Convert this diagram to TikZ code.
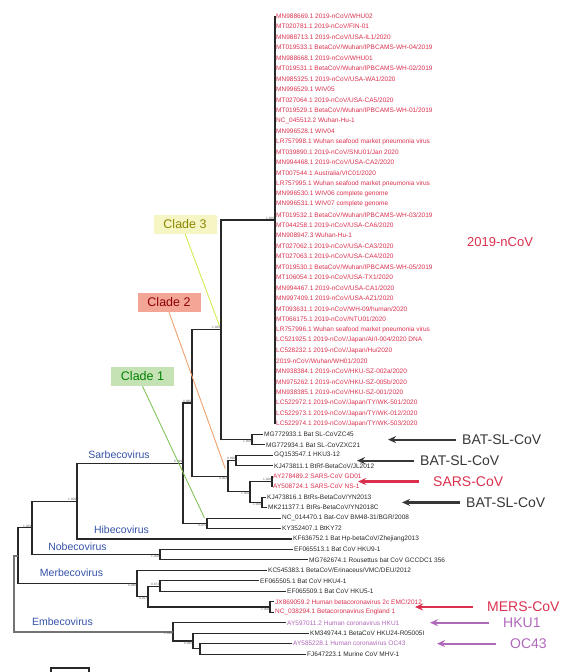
\documentclass[tikz,border=0pt]{standalone}
\usepackage{fontspec}
\setmainfont{Liberation Sans}
\usetikzlibrary{arrows.meta}
\definecolor{ncovred}{RGB}{218,48,78}
\definecolor{leafgray}{RGB}{40,40,40}
\definecolor{groupblue}{RGB}{52,82,168}
\definecolor{hkupurple}{RGB}{176,104,186}
\definecolor{batgray}{RGB}{55,55,55}
\definecolor{cladeyellow}{RGB}{246,246,196}
\definecolor{cladesalmon}{RGB}{244,166,150}
\definecolor{cladegreen}{RGB}{196,226,180}
\definecolor{lineyellow}{RGB}{214,232,80}
\definecolor{lineorange}{RGB}{240,160,110}
\definecolor{linegreen}{RGB}{130,196,90}

\begin{document}
\begin{tikzpicture}[x=1pt,y=-1pt,
    branch/.style={line width=1.1pt, draw=leafgray},
    leaf/.style={anchor=west, inner sep=1pt, font=\fontsize{6.5}{7}\selectfont},
    boot/.style={font=\fontsize{3.2}{4}\selectfont, text=black!60, inner sep=0.6pt},
    genus/.style={font=\fontsize{10.5}{12}\selectfont, text=groupblue, inner sep=0pt},
    virus/.style={font=\fontsize{14}{16}\selectfont, anchor=west, inner sep=0pt},
    pointer/.style={line width=2.2pt, -{Stealth[length=8pt,width=7pt]}},
    cladebox/.style={font=\fontsize{12.5}{14}\selectfont, minimum width=63pt, minimum height=19pt, inner sep=0pt}]
    \useasboundingbox (0,0) rectangle (568,672);

    % 2019-nCoV leaves
    \foreach \lab [count=\i] in {
        MN988669.1 2019-nCoV/WHU02,
        MT020781.1 2019-nCoV/FIN-01,
        MN988713.1 2019-nCoV/USA-IL1/2020,
        MT019533.1 BetaCoV/Wuhan/IPBCAMS-WH-04/2019,
        MN988668.1 2019-nCoV/WHU01,
        MT019531.1 BetaCoV/Wuhan/IPBCAMS-WH-02/2019,
        MN985325.1 2019-nCoV/USA-WA1/2020,
        MN996529.1 WIV05,
        MT027064.1 2019-nCoV/USA-CA5/2020,
        MT019529.1 BetaCoV/Wuhan/IPBCAMS-WH-01/2019,
        NC\_045512.2 Wuhan-Hu-1,
        MN996528.1 WIV04,
        LR757998.1 Wuhan seafood market pneumonia virus,
        MT039890.1 2019-nCoV/SNU01/Jan 2020,
        MN994468.1 2019-nCoV/USA-CA2/2020,
        MT007544.1 Australia/VIC01/2020,
        LR757995.1 Wuhan seafood market pneumonia virus,
        MN996530.1 WIV06 complete genome,
        MN996531.1 WIV07 complete genome,
        MT019532.1 BetaCoV/Wuhan/IPBCAMS-WH-03/2019,
        MT044258.1 2019-nCoV/USA-CA6/2020,
        MN908947.3 Wuhan-Hu-1,
        MT027062.1 2019-nCoV/USA-CA3/2020,
        MT027063.1 2019-nCoV/USA-CA4/2020,
        MT019530.1 BetaCoV/Wuhan/IPBCAMS-WH-05/2019,
        MT106054.1 2019-nCoV/USA-TX1/2020,
        MN994467.1 2019-nCoV/USA-CA1/2020,
        MN997409.1 2019-nCoV/USA-AZ1/2020,
        MT093631.1 2019-nCoV/WH-09/human/2020,
        MT066175.1 2019-nCoV/NTU01/2020,
        LR757996.1 Wuhan seafood market pneumonia virus,
        LC521925.1 2019-nCoV/Japan/AI/I-004/2020 DNA,
        LC528232.1 2019-nCoV/Japan/Hu/2020,
        2019-nCoV/Wuhan/WH01/2020,
        MN938384.1 2019-nCoV/HKU-SZ-002a/2020,
        MN975262.1 2019-nCoV/HKU-SZ-005b/2020,
        MN938385.1 2019-nCoV/HKU-SZ-001/2020,
        LC522972.1 2019-nCoV/Japan/TY/WK-501/2020,
        LC522973.1 2019-nCoV/Japan/TY/WK-012/2020,
        LC522974.1 2019-nCoV/Japan/TY/WK-503/2020}
        \node[leaf, text=ncovred] (l\i) at (275, {16+10.46*(\i-1)}) {\lab};

    % other betacoronaviruses
    \foreach \x/\lab/\col [count=\i from 41] in {
        263/{MG772933.1 Bat SL-CoVZC45}/leafgray,
        265/{MG772934.1 Bat SL-CoVZXC21}/leafgray,
        273/{GQ153547.1 HKU3-12}/leafgray,
        273/{KJ473811.1 BtRf-BetaCoV/JL2012}/leafgray,
        272/{AY278489.2 SARS-CoV GD01}/ncovred,
        272/{AY508724.1 SARS-CoV NS-1}/ncovred,
        266/{KJ473816.1 BtRs-BetaCoV/YN2013}/leafgray,
        267/{MK211377.1 BtRs-BetaCoV/YN2018C}/leafgray,
        281/{NC\_014470.1 Bat-CoV BM48-31/BGR/2008}/leafgray,
        281/{KY352407.1 BtKY72}/leafgray,
        292/{KF636752.1 Bat Hp-betaCoV/Zhejiang2013}/leafgray,
        293/{EF065513.1 Bat CoV HKU9-1}/leafgray,
        308/{MG762674.1 Rousettus bat CoV GCCDC1 356}/leafgray,
        267/{KC545383.1 BetaCoV/Erinaceus/VMC/DEU/2012}/leafgray,
        259/{EF065505.1 Bat CoV HKU4-1}/leafgray,
        286/{EF065509.1 Bat CoV HKU5-1}/leafgray,
        274/{JX869059.2 Human betacoronavirus 2c EMC/2012}/ncovred,
        274/{NC\_038294.1 Betacoronavirus England 1}/ncovred,
        286/{AY597011.2 Human coronavirus HKU1}/hkupurple,
        309/{KM349744.1 BetaCoV HKU24-R05005I}/leafgray,
        292/{AY585228.1 Human coronavirus OC43}/hkupurple,
        306/{FJ647223.1 Murine CoV MHV-1}/leafgray}
        \node[leaf, text=\col] (l\i) at (\x, {16+10.46*(\i-1)}) {\lab};

    % inner nodes
    \coordinate (nncov) at (275,220);
    \coordinate (nzc) at (252,439.6);
    \coordinate (nclade3) at (221,329.8);
    \coordinate (nhku3) at (236,460.6);
    \coordinate (nsars) at (272,481.5);
    \coordinate (nyn) at (262,502.4);
    \coordinate (nsarsbat) at (250,491.9);
    \coordinate (nclade2) at (228,476.2);
    \coordinate (nsub) at (192,403);
    \coordinate (nclade1) at (207,523.3);
    \coordinate (nsarbeco) at (183,463.2);
    \coordinate (nsarhib) at (77,501.1);
    \coordinate (nnobeco) at (160,554.7);
    \coordinate (nsnh) at (32,527.9);
    \coordinate (nhku45) at (160,586.1);
    \coordinate (nmers) at (270,607);
    \coordinate (nmerhku) at (148,596.5);
    \coordinate (nmerbeco) at (137,583.5);
    \coordinate (nbcore) at (18,555.7);
    \coordinate (noc43) at (200,648.8);
    \coordinate (nhku24) at (193,641);
    \coordinate (nembeco) at (173,631.8);
    \coordinate (nroot) at (14,593.8);

    % branches
    \draw[branch, line width=1.8pt] (l1.west) -- (l40.west);
    \foreach \p/\c in {nclade3/nncov, nclade3/nzc, nzc/l41.west, nzc/l42.west,
        nsub/nclade3, nsub/nclade2, nclade2/nhku3, nhku3/l43.west, nhku3/l44.west,
        nclade2/nsarsbat, nsarsbat/nsars, nsars/l45.west, nsars/l46.west,
        nsarsbat/nyn, nyn/l47.west, nyn/l48.west,
        nsarbeco/nsub, nsarbeco/nclade1, nclade1/l49.west, nclade1/l50.west,
        nsarhib/nsarbeco, nsarhib/l51.west,
        nsnh/nsarhib, nsnh/nnobeco, nnobeco/l52.west, nnobeco/l53.west,
        nbcore/nsnh, nbcore/nmerbeco, nmerbeco/l54.west, nmerbeco/nmerhku,
        nmerhku/nhku45, nhku45/l55.west, nhku45/l56.west,
        nmerhku/nmers, nmers/l57.west, nmers/l58.west,
        nembeco/l59.west, nembeco/nhku24,
        nhku24/l60.west, nhku24/noc43, noc43/l61.west, noc43/l62.west}
        \draw[branch] (\p) |- (\c);
    \draw[branch, draw=black!55, line width=1.6pt] (nbcore) -| (nroot) |- (nembeco);

    % bootstrap values
    \foreach \n/\v in {nncov/1.000, nclade3/1.000, nsub/0.986, nhku3/0.998,
        nsars/1.000, nsarbeco/0.999, nsarhib/1.000, nsnh/1.000, nhku45/0.874}
        \node[boot, above left] at (\n) {\v};
    \foreach \n/\v in {nzc/1.000, nclade2/0.962, nsarsbat/1.000, nyn/1.000,
        nclade1/0.975, nnobeco/1.000, nmerbeco/0.996, nmerhku/0.917,
        nmers/1.000, nembeco/1.000, nhku24/0.995}
        \node[boot, below left] at (\n) {\v};

    % genus names
    \node[genus] (gsarbeco) at (119,455) {Sarbecovirus};
    \node[genus] (ghibeco) at (121.5,530) {Hibecovirus};
    \node[genus] (gnobeco) at (77.5,547) {Nobecovirus};
    \node[genus] (gmerbeco) at (71.5,573) {Merbecovirus};
    \node[genus] (gembeco) at (62.5,622) {Embecovirus};

    % clades
    \node[cladebox, fill=cladeyellow, text=olive] (clade3) at (185,224) {Clade 3};
    \node[cladebox, fill=cladesalmon, text=red!55!black] (clade2) at (169,302.5) {Clade 2};
    \node[cladebox, fill=cladegreen, text=green!50!black] (clade1) at (142.5,376.5) {Clade 1};
    \draw[line width=0.9pt, draw=lineyellow, shorten >=4pt] (clade3.south) -- (nclade3);
    \draw[line width=0.9pt, draw=lineorange, shorten >=8pt] (clade2.south) -- (nclade2);
    \draw[line width=0.9pt, draw=linegreen, shorten >=6pt] (clade1.south) -- (nclade1);

    % viruses and pointers
    \node[virus, text=ncovred, font=\fontsize{13}{15}\selectfont] (v2019) at (467,242) {2019-nCoV};
    \node[virus, text=batgray] (vbat1) at (462,439.6) {BAT-SL-CoV};
    \node[virus, text=batgray] (vbat2) at (420,460.6) {BAT-SL-CoV};
    \node[virus, text=ncovred] (vsars) at (433,481.5) {SARS-CoV};
    \node[virus, text=batgray] (vbat3) at (466,502.4) {BAT-SL-CoV};
    \node[virus, text=ncovred] (vmers) at (487,607) {MERS-CoV};
    \node[virus, text=hkupurple] (vhku1) at (503,622.7) {HKU1};
    \node[virus, text=hkupurple] (voc43) at (510,643.6) {OC43};
    \coordinate (tbat1) at (388,439.6);
    \coordinate (tbat2) at (357,460.6);
    \coordinate (tsars) at (358,481.5);
    \coordinate (tbat3) at (402,502.4);
    \coordinate (tmers) at (415,607);
    \coordinate (thku1) at (430,622.7);
    \coordinate (toc43) at (437,643.6);
    \draw[pointer, batgray] ([xshift=-6pt]vbat1.west) -- (tbat1);
    \draw[pointer, batgray] ([xshift=-6pt]vbat2.west) -- (tbat2);
    \draw[pointer, ncovred] ([xshift=-14pt]vsars.west) -- (tsars);
    \draw[pointer, batgray] ([xshift=-6pt]vbat3.west) -- (tbat3);
    \draw[pointer, ncovred] ([xshift=-14pt]vmers.west) -- (tmers);
    \draw[pointer, hkupurple] ([xshift=-14pt]vhku1.west) -- (thku1);
    \draw[pointer, hkupurple] ([xshift=-14pt]voc43.west) -- (toc43);

    % scale bar
    \coordinate (sbl) at (51,672);
    \coordinate (sbr) at (89,672);
    \draw[branch] (sbl) -- ++(0,-4) -| (sbr);
\end{tikzpicture}
\end{document}
